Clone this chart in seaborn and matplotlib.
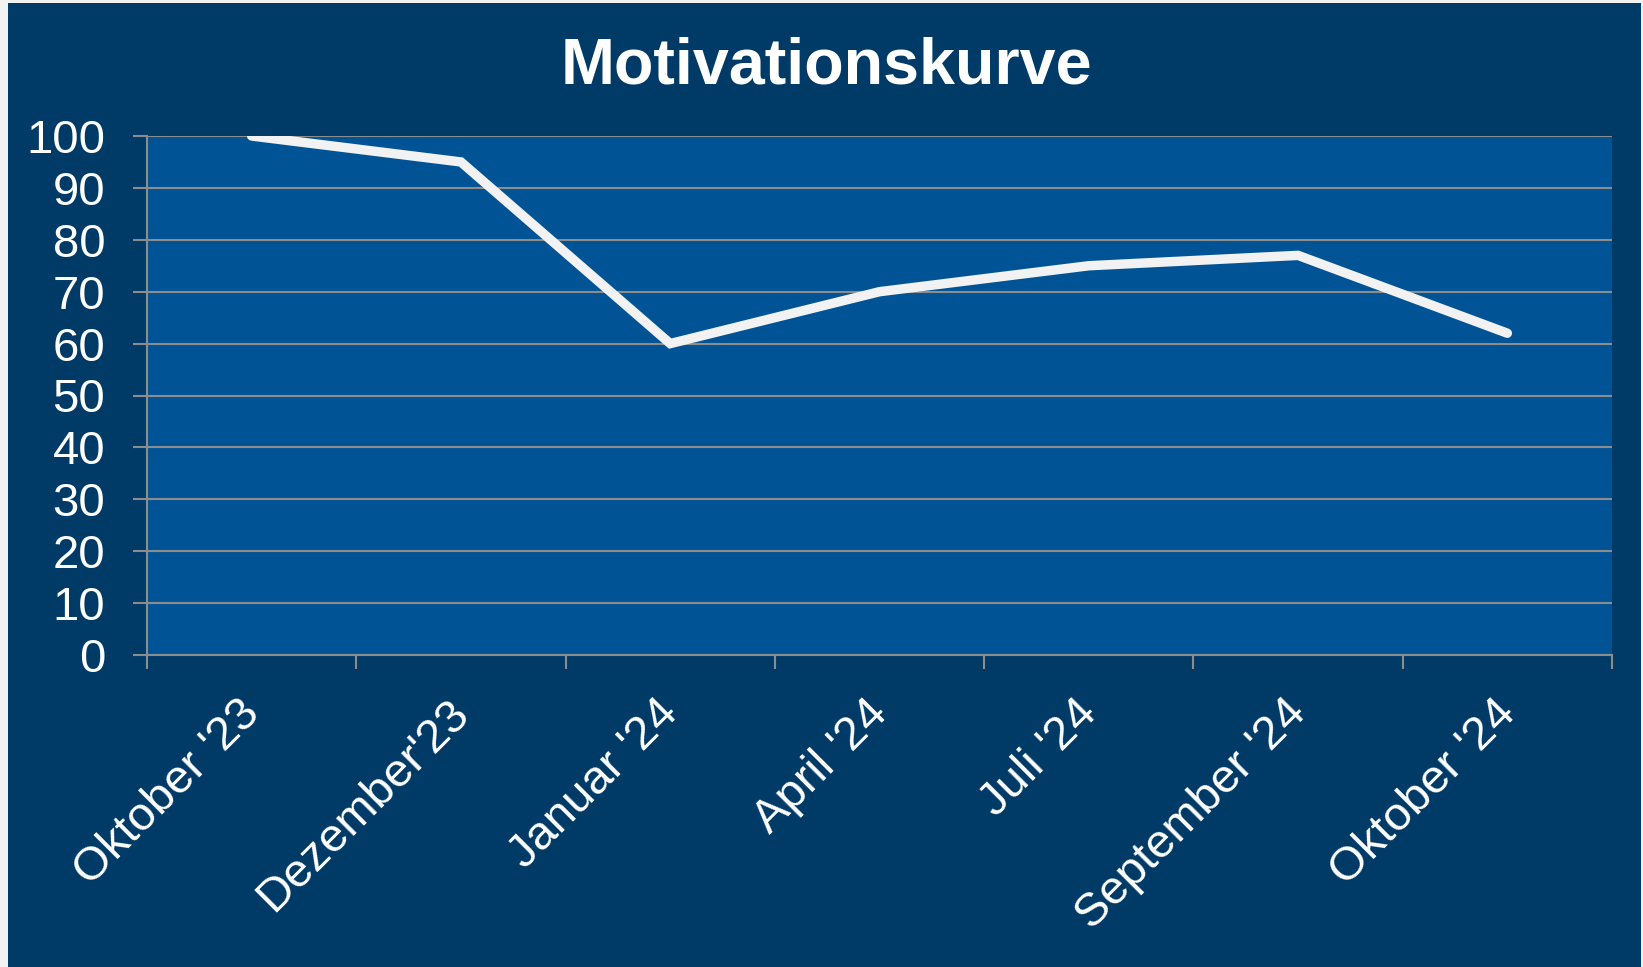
import matplotlib
matplotlib.use("Agg")
import matplotlib.pyplot as plt
import matplotlib.transforms as mtransforms
from matplotlib.patches import Rectangle
import numpy as np
import seaborn as sns

months = ["Oktober '23", "Dezember'23", "Januar '24", "April '24", "Juli '24", "September '24", "Oktober '24"]
motivation = [100, 95, 60, 70, 75, 77, 62]
y_ticks = [0, 10, 20, 30, 40, 50, 60, 70, 80, 90, 100]
title = "Motivationskurve"

sns.set_theme(style="white")
plt.rcParams['font.family'] = ['Liberation Sans', 'DejaVu Sans']

navy = "#003B68"
blue = "#005496"
grid_gray = "#8C8C8C"

fig = plt.figure(figsize=(16.43, 9.67), dpi=100)
fig.patch.set_facecolor("#F2F2F2")
fig.patches.append(Rectangle((8 / 1643, 0), (1641 - 8) / 1643, (967 - 3) / 967,
                             transform=fig.transFigure, facecolor=navy, edgecolor="none", zorder=-10))

ax = fig.add_axes([147 / 1643, 1 - 655 / 967, (1612 - 147) / 1643, (655 - 136) / 967])
ax.set_facecolor(blue)

sns.lineplot(x=months, y=motivation, sort=False, ax=ax, color="#F2F2F2", linewidth=6.8,
             solid_capstyle="round", solid_joinstyle="miter", zorder=3)

ax.set_xlim(-0.5, len(months) - 0.5)
ax.set_ylim(0, 100)
ax.set_yticks(y_ticks)
ax.set_yticklabels([str(v) for v in y_ticks])
ax.set_xticks(range(len(months)))
ax.set_xticklabels(months)
ax.set_xticks(np.arange(-0.5, len(months), 1.0), minor=True)

ax.grid(axis="y", color=grid_gray, linewidth=1.5, zorder=1)
ax.grid(axis="x", visible=False)
ax.set_axisbelow(True)

for s in ["top", "right"]:
    ax.spines[s].set_visible(False)
for s in ["left", "bottom"]:
    ax.spines[s].set_visible(True)
    ax.spines[s].set_color(grid_gray)
    ax.spines[s].set_linewidth(1.5)

ax.tick_params(axis="y", which="major", left=True, length=10, width=1.5, color=grid_gray,
               labelsize=34, labelcolor="white", pad=20)
ax.tick_params(axis="x", which="major", bottom=True, length=0, labelsize=34, labelcolor="white", pad=26)
ax.tick_params(axis="x", which="minor", bottom=True, length=10, width=1.5, color=grid_gray)

offset = mtransforms.ScaledTranslation(-14 / 100, 0, fig.dpi_scale_trans)
for lab in ax.get_xticklabels():
    lab.set_rotation(45)
    lab.set_rotation_mode("anchor")
    lab.set_ha("right")
    lab.set_va("top")
    lab.set_transform(lab.get_transform() + offset)

ax.set_xlabel("")
ax.set_ylabel("")

fig.text(826 / 1643, 1 - 67 / 967, title, ha="center", va="center", fontsize=46.5,
         fontweight="bold", color="white")

fig.savefig("out.png", dpi=100, facecolor=fig.get_facecolor())
